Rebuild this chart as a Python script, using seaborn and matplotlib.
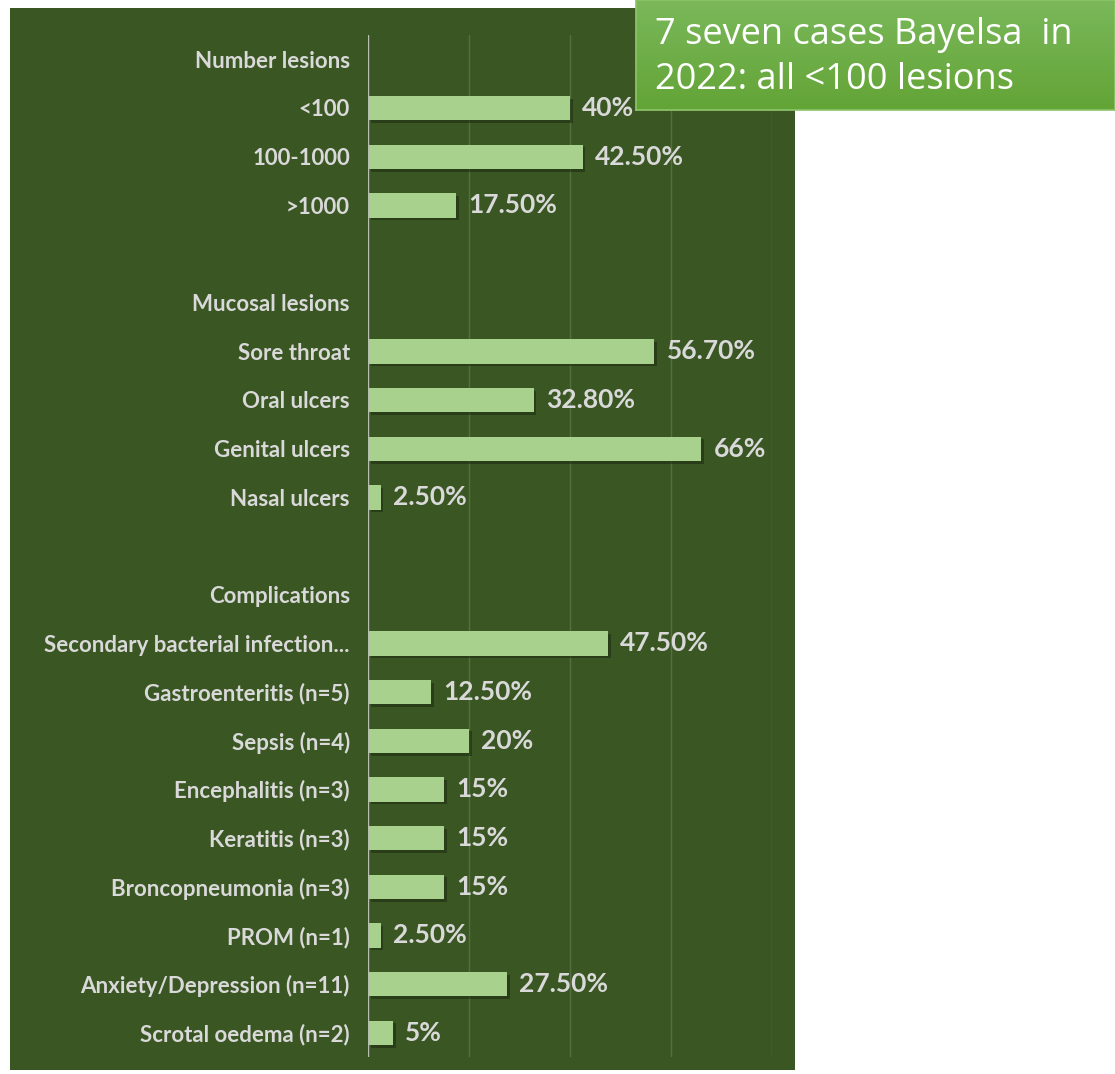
import matplotlib
matplotlib.use('Agg')
import matplotlib.pyplot as plt
import matplotlib.patheffects as pe
from matplotlib.colors import LinearSegmentedColormap
import seaborn as sns
import numpy as np
import pandas as pd

# rows top to bottom; headers and spacer rows have no bar
row_labels = ['Number lesions', '<100', '100-1000', '>1000', '',
              'Mucosal lesions', 'Sore throat', 'Oral ulcers', 'Genital ulcers', 'Nasal ulcers', ' ',
              'Complications', 'Secondary bacterial infection...', 'Gastroenteritis (n=5)',
              'Sepsis (n=4)', 'Encephalitis (n=3)', 'Keratitis (n=3)', 'Broncopneumonia (n=3)',
              'PROM (n=1)', 'Anxiety/Depression (n=11)', 'Scrotal oedema (n=2)']
row_values = [0, 40, 42.5, 17.5, 0,
              0, 56.7, 32.8, 66, 2.5, 0,
              0, 47.5, 12.5, 20, 15, 15, 15, 2.5, 27.5, 5]
value_text = ['', '40%', '42.50%', '17.50%', '',
              '', '56.70%', '32.80%', '66%', '2.50%', '',
              '', '47.50%', '12.50%', '20%', '15%', '15%', '15%', '2.50%', '27.50%', '5%']
x_ticks = [0, 20, 40, 60, 80]
note_lines = ['7 seven cases Bayelsa  in', '2022: all <100 lesions']

panel_green = '#3a5623'
bar_green = '#a9d18e'
label_grey = '#d9d9d9'

df = pd.DataFrame({'label': row_labels, 'value': row_values})

sns.set_theme(style='white')
plt.rcParams['font.family'] = ['Lato', 'DejaVu Sans']

W, H = 1115, 1074
fig = plt.figure(figsize=(W / 100, H / 100), dpi=100)
fig.patch.set_facecolor('white')

# dark green chart panel
bg = fig.add_axes([10 / W, 1 - 1070 / H, 785 / W, 1062 / H], zorder=-5)
bg.set_facecolor(panel_green)
bg.set_xticks([])
bg.set_yticks([])
for s in bg.spines.values():
    s.set_visible(False)

ax = fig.add_axes([368 / W, 1 - 1057 / H, 404 / W, 1022 / H], zorder=1)
ax.set_facecolor('none')
sns.barplot(data=df, y='label', x='value', order=row_labels, orient='h',
            color=bar_green, width=0.5, saturation=1, linewidth=0, ax=ax, zorder=3)
for p in ax.patches:
    p.set_path_effects([pe.SimplePatchShadow(offset=(2, -2), shadow_rgbFace='#1e2e12', alpha=0.6),
                        pe.Normal()])

ax.set_xlim(0, 80)
ax.set_ylim(len(row_labels) - 0.5, -0.5)
ax.set_xticks(x_ticks)
ax.set_xticklabels([])
ax.tick_params(axis='x', length=0)
ax.tick_params(axis='y', length=0, pad=13)
for gx in x_ticks[1:]:
    ax.axvline(gx, color='#557040', lw=1, zorder=1)
ax.axvline(0, color='#b8bfb2', lw=1, zorder=4)
for s in ax.spines.values():
    s.set_visible(False)
ax.set_xlabel('')
ax.set_ylabel('')
ax.set_yticks(range(len(row_labels)))
ax.set_yticklabels(row_labels, color=label_grey, fontsize=16, fontweight='bold')

for i, (v, t) in enumerate(zip(row_values, value_text)):
    if t:
        ax.text(v + 2.4, i, t, va='center', ha='left', color=label_grey,
                fontsize=19, fontweight='bold', zorder=5)

# note box top right
nax = fig.add_axes([636 / W, 1 - 110 / H, 479 / W, 110 / H], zorder=10)
grad = np.linspace(0, 1, 100).reshape(-1, 1)
nax.imshow(grad, aspect='auto', extent=[0, 1, 0, 1],
           cmap=LinearSegmentedColormap.from_list('g', ['#7ab85a', '#63a436']))
nax.set_xlim(0, 1)
nax.set_ylim(0, 1)
nax.set_xticks([])
nax.set_yticks([])
for s in nax.spines.values():
    s.set_color('#8cc46a')
nax.text(0.04, 0.68, note_lines[0], color='white', fontsize=26, va='center', ha='left',
         family=['Open Sans', 'DejaVu Sans'])
nax.text(0.04, 0.27, note_lines[1], color='white', fontsize=26, va='center', ha='left',
         family=['Open Sans', 'DejaVu Sans'])

fig.savefig('out.png', dpi=100, facecolor='white')
